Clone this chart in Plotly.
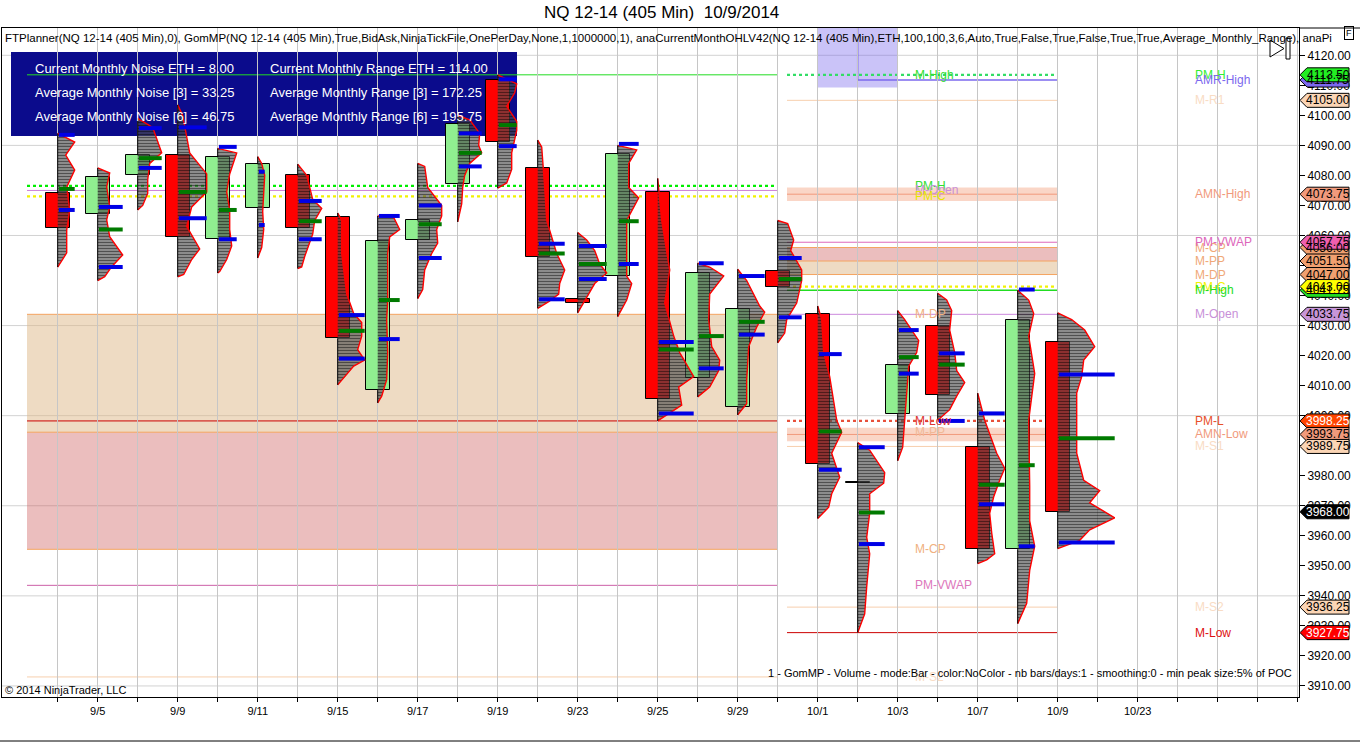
import plotly.graph_objects as go

# ---------------- data ----------------
title_text = "NQ 12-14 (405 Min)\u00a0\u00a010/9/2014"
indicator_text = ("FTPlanner(NQ 12-14 (405 Min),0), GomMP(NQ 12-14 (405 Min),True,BidAsk,NinjaTickFile,OnePerDay,None,1,1000000,1), "
                  "anaCurrentMonthOHLV42(NQ 12-14 (405 Min),ETH,100,100,3,6,Auto,True,False,True,False,True,True,Average_Monthly_Range), anaPi")
footer_text = "1 - GomMP - Volume - mode:Bar - color:NoColor - nb bars/days:1 - smoothing:0 - min peak size:5% of POC"
copyright_text = "© 2014 NinjaTrader, LLC"

dates = ["9/4", "9/5", "9/8", "9/9", "9/10", "9/11", "9/12", "9/15", "9/16", "9/17", "9/18", "9/19", "9/22",
         "9/23", "9/24", "9/25", "9/26", "9/29", "9/30", "10/1", "10/2", "10/3", "10/6", "10/7", "10/8", "10/9"]
axis_labels = ["9/5", "9/9", "9/11", "9/15", "9/17", "9/19", "9/23", "9/25", "9/29", "10/1", "10/3", "10/7", "10/9", "10/23"]

opens = [4074.0, 4067.0, 4080.0, 4086.75, 4058.75, 4069.0, 4080.0, 4066.25, 4008.5, 4058.5, 4077.0, 4111.75, 4082.5,
         4038.75, 4046.5, 4074.5, 4012.5, 4002.75, 4048.25, 4033.75, 3977.5, 4000.5, 4030.0, 3989.5, 3955.5, 4024.5]
highs = [4094.0, 4082.5, 4099.0, 4103.5, 4089.0, 4086.25, 4083.75, 4067.5, 4066.5, 4084.0, 4100.0, 4113.5, 4091.75,
         4061.0, 4090.0, 4079.0, 4050.75, 4048.75, 4065.0, 4036.5, 3991.0, 4035.0, 4040.75, 4007.5, 4041.75, 4034.25]
lows = [4049.5, 4045.0, 4068.5, 4046.25, 4047.5, 4052.5, 4049.0, 4010.25, 4004.25, 4039.0, 4064.5, 4075.75, 4035.75,
        4034.25, 4033.0, 3998.25, 4006.25, 4000.25, 4024.25, 3965.75, 3927.75, 3985.0, 3998.5, 3950.75, 3930.75, 3955.75]
closes = [4062.5, 4079.5, 4086.75, 4059.5, 4086.0, 4083.75, 4062.5, 4025.75, 4058.0, 4065.0, 4097.0, 4091.25, 4052.75,
          4037.5, 4087.0, 4005.5, 4047.5, 4035.5, 4043.0, 3983.75, 3977.75, 4017.0, 4007.0, 3955.75, 4032.0, 3968.0]

# volume profiles: (price, volume) pairs, low to high
profiles = [
    [(4049.5, 0), (4054.2, 9), (4061.8, 9), (4068.5, 12), (4076.1, 9), (4081.8, 17), (4086.8, 8), (4091.1, 17), (4094.0, 0)],
    [(4045.0, 0), (4046.3, 7), (4049.6, 14), (4053.5, 25), (4059.6, 12), (4065.2, 9), (4069.6, 12), (4076.2, 9), (4080.8, 12), (4082.5, 0)],
    [(4068.5, 0), (4070.0, 5), (4074.0, 10), (4078.5, 10), (4084.0, 12), (4087.5, 24), (4096.0, 15), (4099.0, 0)],
    [(4046.25, 0), (4047.0, 6), (4052.0, 14), (4055.5, 22), (4063.0, 9), (4069.5, 14), (4074.5, 29), (4080.5, 29), (4087.5, 12), (4096.0, 7), (4100.0, 5), (4103.5, 0)],
    [(4047.5, 0), (4048.0, 2), (4052.0, 9), (4056.5, 14), (4062.0, 12), (4068.5, 12), (4074.5, 9), (4080.5, 12), (4087.5, 19), (4089.0, 0)],
    [(4052.5, 0), (4056.0, 4), (4062.0, 6), (4068.0, 5), (4074.0, 6), (4080.0, 7), (4084.0, 4), (4086.25, 0)],
    [(4049.0, 0), (4049.5, 4), (4053.0, 7), (4057.5, 12), (4060.5, 15), (4065.0, 17), (4069.0, 24), (4072.0, 15), (4080.0, 9), (4083.75, 0)],
    [(4010.25, 0), (4014.0, 10), (4016.5, 16), (4018.5, 27), (4022.0, 20), (4026.5, 24), (4031.0, 24), (4034.0, 16), (4040.5, 9), (4054.0, 4), (4065.0, 4), (4067.5, 0)],
    [(4004.25, 0), (4006.5, 4), (4012.0, 9), (4021.0, 10), (4032.0, 9), (4038.5, 10), (4047.5, 10), (4054.0, 10), (4059.5, 12), (4062.0, 22), (4066.0, 16), (4066.5, 0)],
    [(4039.0, 0), (4042.0, 5), (4048.5, 7), (4054.0, 14), (4057.5, 20), (4062.0, 19), (4066.5, 24), (4070.0, 24), (4076.0, 10), (4083.0, 7), (4084.0, 0)],
    [(4064.5, 0), (4070.5, 4), (4076.0, 5), (4080.0, 7), (4084.0, 12), (4087.5, 24), (4090.0, 21), (4094.0, 22), (4098.5, 12), (4100.0, 0)],
    [(4075.75, 0), (4077.5, 9), (4082.0, 14), (4087.5, 14), (4095.0, 19), (4098.0, 19), (4103.0, 9), (4107.5, 17), (4110.5, 19), (4113.5, 0)],
    [(4035.75, 0), (4038.0, 11), (4040.5, 21), (4044.0, 22), (4048.5, 27), (4054.0, 19), (4059.5, 14), (4065.0, 9), (4076.0, 7), (4089.5, 4), (4091.75, 0)],
    [(4034.25, 0), (4039.5, 9), (4044.0, 17), (4047.5, 29), (4050.5, 22), (4055.0, 17), (4058.5, 9), (4061.0, 0)],
    [(4033.0, 0), (4038.5, 9), (4044.0, 14), (4046.5, 9), (4054.0, 9), (4065.0, 9), (4072.5, 21), (4076.0, 11), (4084.0, 11), (4088.5, 19), (4090.0, 0)],
    [(3998.25, 0), (4000.25, 9), (4003.5, 24), (4009.5, 21), (4013.0, 36), (4021.0, 22), (4026.5, 16), (4037.5, 7), (4048.5, 12), (4065.0, 4), (4079.0, 0)],
    [(4006.25, 0), (4009.5, 12), (4015.0, 21), (4018.5, 22), (4023.0, 14), (4032.0, 11), (4040.5, 12), (4046.5, 26), (4049.5, 12), (4050.75, 0)],
    [(4000.25, 0), (4004.0, 9), (4012.0, 9), (4023.0, 11), (4029.5, 19), (4034.5, 27), (4036.5, 22), (4040.5, 16), (4045.0, 9), (4048.75, 0)],
    [(4024.25, 0), (4027.5, 7), (4032.0, 9), (4037.5, 19), (4045.0, 24), (4048.5, 24), (4055.0, 13), (4058.5, 16), (4064.0, 10), (4065.0, 0)],
    [(3965.75, 0), (3969.5, 11), (3974.0, 14), (3979.5, 22), (3987.5, 14), (3994.5, 24), (3998.5, 19), (4005.0, 16), (4013.0, 12), (4021.0, 6), (4032.0, 4), (4036.5, 0)],
    [(3927.75, 0), (3934.0, 7), (3943.0, 9), (3954.0, 12), (3959.5, 9), (3967.5, 12), (3974.0, 12), (3977.5, 26), (3981.0, 27), (3985.0, 19), (3988.5, 12), (3991.0, 0)],
    [(3985.0, 0), (3989.5, 5), (3998.5, 7), (4009.5, 9), (4016.5, 11), (4021.0, 19), (4025.0, 21), (4027.5, 16), (4032.0, 7), (4035.0, 0)],
    [(3998.5, 0), (4002.0, 12), (4006.5, 19), (4011.0, 27), (4015.0, 19), (4021.0, 17), (4028.5, 12), (4035.0, 14), (4038.5, 9), (4040.75, 0)],
    [(3950.75, 0), (3952.0, 9), (3954.0, 17), (3961.0, 14), (3967.5, 12), (3973.0, 16), (3978.5, 22), (3982.5, 27), (3987.5, 19), (3998.5, 7), (4007.5, 0)],
    [(3930.75, 0), (3937.5, 9), (3948.5, 12), (3956.5, 17), (3965.0, 12), (3976.5, 12), (3998.5, 11), (4014.0, 17), (4026.5, 11), (4034.0, 16), (4038.5, 11), (4041.75, 0)],
    [(3955.75, 0), (3958.5, 22), (3962.0, 32), (3966.0, 57), (3971.0, 32), (3975.0, 42), (3978.5, 26), (3987.5, 19), (3998.5, 19), (4007.5, 19), (4013.0, 24), (4018.5, 26), (4023.0, 37), (4028.5, 27), (4032.0, 14), (4034.25, 0)],
]
value_area_high = [4093.5, 4069.5, 4095.75, 4096.0, 4089.5, 4081.25, 4071.5, 4033.5, 4066.5, 4070.0, 4094.0, 4112.0, 4057.25,
                   4056.5, 4090.5, 4024.5, 4050.75, 4046.5, 4052.5, 4020.5, 3989.5, 4028.5, 4020.75, 4000.75, 4042.0, 4013.75]
value_area_low = [4068.5, 4049.5, 4082.5, 4065.75, 4058.75, 4063.5, 4058.75, 4019.0, 4025.5, 4052.5, 4083.0, 4089.75, 4038.75,
                  4045.5, 4050.5, 4000.75, 4015.75, 4027.0, 4032.75, 3982.0, 3957.25, 4014.0, 3998.25, 3970.5, 3956.5, 3957.75]
poc = [4075.5, 4062.0, 4085.75, 4074.5, 4068.5, None, 4064.75, 4028.25, 4038.5, 4063.75, 4087.5, 4096.75, 4054.0,
       4050.5, 4064.75, 4022.0, 4026.5, 4031.25, 4045.5, 3994.75, 3967.75, 4019.5, 4017.0, 3977.0, 3983.5, 3992.5]

# September levels (drawn across the September bars)
sept_levels = {"M-High": 4113.5, "PM-H": 4076.5, "M-Open": 4075.0, "PM-C": 4073.0, "M-DP": 4033.75,
               "M-Low": 3998.25, "M-PP": 3994.5, "M-CP": 3955.5, "PM-VWAP": 3943.5, "M-S2": 3913.0}
# October levels (drawn across the October bars)
oct_levels = {"PM-H": 4113.5, "AMR-High": 4111.75, "M-R1": 4105.0, "AMN-High": 4073.75, "PM-VWAP": 4057.75,
              "M-CP": 4056.0, "M-PP": 4051.5, "M-DP": 4047.0, "PM-C": 4043.0, "M-High": 4041.75, "M-Open": 4033.75,
              "PM-L": 3998.25, "AMN-Low": 3993.75, "M-S1": 3989.75, "M-S2": 3936.25, "M-Low": 3927.75}
amr_zone_low = 4109.25
amn_band_half = 2.25
last_price = 3968.0

noise_stats = [("Current Monthly Noise ETH", "8.00"), ("Average Monthly Noise [3]", "33.25"), ("Average Monthly Noise [6]", "46.75")]
range_stats = [("Current Monthly Range ETH", "114.00"), ("Average Monthly Range [3]", "172.25"), ("Average Monthly Range [6]", "195.75")]

# ---------------- geometry helpers ----------------
FONT = "Liberation Sans, Arial, sans-serif"
PL, PR, PT, PB = 2, 1299, 28, 697          # plot area in pixels
Y_TOP, Y_BOT = 4129.09, 3906.32
X_LEFT, X_RIGHT = -1.3925, 31.0325


def pxx(px):
    return (px - PL) / (PR - PL)


def pxy(py):
    return (PB - py) / (PB - PT)


def idx_of_px(px):
    return (px - 57.7) / 40.0


def price_of_py(py):
    return Y_TOP - (py - PT) * (Y_TOP - Y_BOT) / (PB - PT)


VOL_SCALE = 1 / 40.0
SEPT_X = (idx_of_px(27), idx_of_px(777.5))
OCT_X = (idx_of_px(787), idx_of_px(1057.5))

fig = go.Figure()
shapes = []
annotations = []

# horizontal grid lines every 30 points
g = 3910
while g <= 4120:
    shapes.append(dict(type="line", xref="paper", yref="y", x0=0, x1=1, y0=g, y1=g,
                       line=dict(color="#d2d2d2", width=1), layer="below"))
    g += 30

# stats box
shapes.append(dict(type="rect", xref="x", yref="y", x0=idx_of_px(11), x1=idx_of_px(517),
                   y0=price_of_py(136), y1=price_of_py(52), fillcolor="#0b0b8c", line=dict(width=0), layer="below"))


def hline(y, x0, x1, color, width=1, dash="solid"):
    shapes.append(dict(type="line", xref="x", yref="y", x0=x0, x1=x1, y0=y, y1=y,
                       line=dict(color=color, width=width, dash=dash), layer="below"))


def band(y0, y1, x0, x1, fill):
    shapes.append(dict(type="rect", xref="x", yref="y", x0=x0, x1=x1, y0=y0, y1=y1,
                       fillcolor=fill, line=dict(width=0), layer="below"))


TAN = "rgba(222,184,135,0.5)"
ROSE = "rgba(205,92,92,0.40)"
SALMON = "rgba(244,165,130,0.45)"
ORANGE = "#f4a460"
LIME = "#22dd22"
PEACH = "#f7cfae"

# September section
sx0, sx1 = SEPT_X
s = sept_levels
band(s["M-PP"], s["M-DP"], sx0, sx1, TAN)
band(s["M-CP"], s["M-PP"], sx0, sx1, ROSE)
hline(s["M-DP"], sx0, sx1, ORANGE)
hline(s["M-PP"], sx0, sx1, ORANGE)
hline(s["M-CP"], sx0, sx1, ORANGE)
hline(s["M-Low"], sx0, sx1, "#cc0000")
hline(s["PM-VWAP"], sx0, sx1, "#cc5fa8")
hline(s["M-S2"], sx0, sx1, PEACH)
hline(s["M-High"], sx0, sx1, LIME)
hline(s["PM-H"], sx0, sx1, "#00ee00", 2.2, "dot")
hline(s["M-Open"], sx0, sx1, "#cc80d8")
hline(s["PM-C"], sx0, sx1, "#f2f200", 2.2, "dot")

# October section
ox0, ox1 = OCT_X
o = oct_levels
shapes.append(dict(type="rect", xref="x", yref="y", x0=19.0, x1=21.0, y0=amr_zone_low, y1=Y_TOP + 5,
                   fillcolor="rgba(123,104,238,0.40)", line=dict(width=0), layer="below"))
band(o["AMN-High"] - amn_band_half, o["AMN-High"] + amn_band_half, ox0, ox1, SALMON)
hline(o["AMN-High"], ox0, ox1, "#f19a7c")
band(o["AMN-Low"] - amn_band_half, o["AMN-Low"] + amn_band_half, ox0, ox1, SALMON)
hline(o["AMN-Low"], ox0, ox1, "#f19a7c")
band(o["M-PP"], o["M-CP"], ox0, ox1, ROSE)
band(o["M-DP"], o["M-PP"], ox0, ox1, TAN)
for k in ("M-CP", "M-PP", "M-DP"):
    hline(o[k], ox0, ox1, ORANGE)
hline(o["PM-VWAP"], ox0, ox1, "#dd66bb")
hline(o["M-R1"], ox0, ox1, PEACH)
hline(o["M-S1"], ox0, ox1, PEACH)
hline(o["M-S2"], ox0, ox1, PEACH)
hline(o["M-Low"], ox0, ox1, "#cc0000")
hline(o["M-Open"], ox0, ox1, "#cc88dd")
hline(o["M-High"], ox0, ox1, LIME, 1.5)
hline(o["PM-C"], ox0, ox1, "#f2f200", 2.2, "dot")
hline(o["PM-L"], ox0, ox1, "#e8503a", 2.2, "dot")
hline(o["PM-H"], ox0, ox1, "#33dd66", 2.2, "dot")
hline(o["AMR-High"], 20.0, ox1, "#7b68ee", 1.5)
shapes.append(dict(type="line", xref="x", yref="y", x0=20.0, x1=20.0, y0=o["AMR-High"], y1=Y_TOP + 5,
                   line=dict(color="#7b68ee", width=1.5), layer="below"))

# ---------------- candles ----------------
n = len(dates)
xs = list(range(n))
body_lo = [min(a, b) for a, b in zip(opens, closes)]
body_hi = [max(a, b) for a, b in zip(opens, closes)]
body_h = [max(h - l, 0.25) for h, l in zip(body_hi, body_lo)]
body_col = ["#90ee90" if c >= op else "#ff0000" for op, c in zip(opens, closes)]
fig.add_trace(go.Bar(x=xs, y=body_h, base=body_lo, width=0.6,
                     marker=dict(color=body_col, line=dict(color="black", width=1)),
                     showlegend=False, hoverinfo="skip"))

# volume profiles
for i, prof in enumerate(profiles):
    vx = [i + v * VOL_SCALE for p, v in prof]
    vy = [p for p, v in prof]
    fig.add_trace(go.Scatter(x=vx, y=vy, mode="none", fill="toself",
                             fillcolor="rgba(80,80,80,0.62)",
                             fillpattern=dict(shape="-", bgcolor="rgba(80,80,80,0.62)",
                                              fgcolor="rgba(0,0,0,0.9)", size=3, solidity=0.4),
                             showlegend=False, hoverinfo="skip"))
    fig.add_trace(go.Scatter(x=vx, y=vy, mode="lines", line=dict(color="#ff0000", width=1.4),
                             showlegend=False, hoverinfo="skip"))

# wicks
wx, wy = [], []
for i in xs:
    wx += [i, i, None, i, i, None]
    wy += [lows[i], body_lo[i], None, body_hi[i], highs[i], None]
fig.add_trace(go.Scatter(x=wx, y=wy, mode="lines", line=dict(color="black", width=1),
                         showlegend=False, hoverinfo="skip"))

# value area and POC marks
bx, by, gx, gy = [], [], [], []
for i, prof in enumerate(profiles):
    L = max(v for p, v in prof) * VOL_SCALE
    for lvl in (value_area_high[i], value_area_low[i]):
        bx += [i + 0.03, i + L, None]
        by += [lvl, lvl, None]
    if poc[i] is not None:
        gx += [i + 0.03, i + L, None]
        gy += [poc[i], poc[i], None]
fig.add_trace(go.Scatter(x=bx, y=by, mode="lines", line=dict(color="#0000e6", width=4),
                         showlegend=False, hoverinfo="skip"))
fig.add_trace(go.Scatter(x=gx, y=gy, mode="lines", line=dict(color="#007a00", width=4),
                         showlegend=False, hoverinfo="skip"))

# ---------------- level labels ----------------
sept_label_colors = {"M-High": "#33dd33", "PM-H": "#33dd33", "M-Open": "#c890d8", "PM-C": "#e6e600",
                     "M-DP": "#f0b080", "M-Low": "#dd3333", "M-PP": "#f0b896", "M-CP": "#f0b080",
                     "PM-VWAP": "#dd77bb", "M-S2": "#f9dcc4"}
for k, v in sept_levels.items():
    annotations.append(dict(x=idx_of_px(913), y=v, xref="x", yref="y", text=k, showarrow=False,
                            xanchor="left", yanchor="middle",
                            font=dict(family=FONT, size=12, color=sept_label_colors[k])))

oct_label_colors = {"PM-H": "#33ee33", "AMR-High": "#7b68ee", "M-R1": "#f9dcc4", "AMN-High": "#f19a7c",
                    "PM-VWAP": "#dd66bb", "M-CP": "#f0a878", "M-PP": "#f0a878", "M-DP": "#f0a878",
                    "PM-C": "#f2f200", "M-High": "#22dd22", "M-Open": "#c890d8", "PM-L": "#e8502a",
                    "AMN-Low": "#f19a7c", "M-S1": "#f9dcc4", "M-S2": "#f9dcc4", "M-Low": "#dd1111"}
label_order = ["PM-H", "AMR-High", "M-R1", "AMN-High", "M-CP", "PM-VWAP", "M-PP", "M-DP", "PM-C", "M-High",
               "M-Open", "PM-L", "AMN-Low", "M-S1", "M-S2", "M-Low"]
for k in label_order:
    annotations.append(dict(x=idx_of_px(1193), y=oct_levels[k], xref="x", yref="y", text=k, showarrow=False,
                            xanchor="left", yanchor="middle",
                            font=dict(family=FONT, size=12, color=oct_label_colors[k])))

# ---------------- price tags on the axis ----------------
tag_style = [("AMR-High", "#7b68ee", "black"), ("M-CP", "#f0a070", "black"), ("M-High", "#22dd22", "black"),
             ("PM-H", "#22ee22", "black"), ("M-R1", "#fbd5b5", "black"), ("AMN-High", "#f19a7c", "black"),
             ("PM-VWAP", "#ee5fae", "black"), ("M-PP", "#f0a070", "black"), ("M-DP", "#f0a070", "black"),
             ("PM-C", "#ffff00", "black"), ("M-Open", "#c896d8", "black"), ("PM-L", "#ff4500", "white"),
             ("AMN-Low", "#f19a7c", "black"), ("M-S1", "#fbd5b5", "black"), ("M-S2", "#fbd5b5", "black"),
             ("M-Low", "#ff0000", "white")]
half = 7 * (Y_TOP - Y_BOT) / (PB - PT)


def price_tag(p, fill, tcol):
    a, b, c = pxx(1300), pxx(1307), pxx(1349)
    shapes.append(dict(type="path", xref="paper", yref="y",
                       path=f"M {a},{p} L {b},{p + half} L {c},{p + half} L {c},{p - half} L {b},{p - half} Z",
                       fillcolor=fill, line=dict(color="black", width=1), layer="above"))
    annotations.append(dict(x=pxx(1328), y=p, xref="paper", yref="y", text=f"{p:.2f}", showarrow=False,
                            xanchor="center", yanchor="middle", font=dict(family=FONT, size=12, color=tcol)))


for k, fill, tcol in tag_style:
    price_tag(oct_levels[k], fill, tcol)
price_tag(last_price, "#000000", "white")

# ---------------- texts ----------------
annotations.append(dict(x=pxx(661), y=pxy(13), xref="paper", yref="paper", text=title_text, showarrow=False,
                        xanchor="center", yanchor="middle", font=dict(family=FONT, size=17, color="black")))
annotations.append(dict(x=pxx(3), y=pxy(38), xref="paper", yref="paper", text=indicator_text, showarrow=False,
                        xanchor="left", yanchor="middle", font=dict(family=FONT, size=11.5, color="black")))
for r, ((nl, nv), (rl, rv)) in enumerate(zip(noise_stats, range_stats)):
    yy = pxy(68 + 24 * r)
    annotations.append(dict(x=pxx(33), y=yy, xref="paper", yref="paper", text=f"{nl} = {nv}", showarrow=False,
                            xanchor="left", yanchor="middle", font=dict(family=FONT, size=13, color="white")))
    annotations.append(dict(x=pxx(268), y=yy, xref="paper", yref="paper", text=f"{rl} = {rv}", showarrow=False,
                            xanchor="left", yanchor="middle", font=dict(family=FONT, size=13, color="white")))
annotations.append(dict(x=pxx(1294), y=pxy(673), xref="paper", yref="paper", text=footer_text, showarrow=False,
                        xanchor="right", yanchor="middle", font=dict(family=FONT, size=11, color="black")))
annotations.append(dict(x=pxx(3), y=pxy(690), xref="paper", yref="paper", text=copyright_text, showarrow=False,
                        xanchor="left", yanchor="middle", font=dict(family=FONT, size=11, color="black")))
annotations.append(dict(x=pxx(1349), y=pxy(33), xref="paper", yref="paper", text="F", showarrow=False,
                        xanchor="center", yanchor="middle", bordercolor="black", borderwidth=1, borderpad=1,
                        font=dict(family=FONT, size=9, color="black")))

# frame pieces and the small play/pause glyph
shapes.append(dict(type="line", xref="paper", yref="paper", x0=1, x1=pxx(1360), y0=1, y1=1,
                   line=dict(color="black", width=1)))
shapes.append(dict(type="line", xref="paper", yref="paper", x0=pxx(0), x1=pxx(1360), y0=pxy(741), y1=pxy(741),
                   line=dict(color="black", width=1)))
shapes.append(dict(type="path", xref="paper", yref="paper",
                   path=f"M {pxx(1270)},{pxy(40)} L {pxx(1270)},{pxy(57)} L {pxx(1284)},{pxy(48.5)} Z",
                   fillcolor="white", line=dict(color="black", width=1), layer="above"))
shapes.append(dict(type="rect", xref="paper", yref="paper", x0=pxx(1286), x1=pxx(1290), y0=pxy(59), y1=pxy(38),
                   fillcolor="white", line=dict(color="black", width=1), layer="above"))

# ---------------- axes ----------------
tick_idx = list(range(32))
tick_txt = []
for t in tick_idx:
    k = (t - 1) // 2
    tick_txt.append(axis_labels[k] if t % 2 == 1 and 0 <= k < len(axis_labels) else "")

yt = [3910 + 10 * k for k in range(22)]
fig.update_layout(
    width=1360, height=743,
    margin=dict(l=PL, r=1360 - PR, t=PT, b=743 - PB),
    paper_bgcolor="white", plot_bgcolor="white",
    showlegend=False, barmode="overlay", bargap=0,
    xaxis=dict(range=[X_LEFT, X_RIGHT], tickmode="array", tickvals=tick_idx, ticktext=tick_txt,
               showgrid=True, gridcolor="#c6c6c6", gridwidth=1, zeroline=False,
               ticks="outside", ticklen=4, tickcolor="black", showline=True, linecolor="black",
               linewidth=1, mirror=True, tickfont=dict(family=FONT, size=11, color="black")),
    yaxis=dict(range=[Y_BOT, Y_TOP], side="right", tickmode="array", tickvals=yt,
               ticktext=[f"{v:.2f}" for v in yt], showgrid=False, zeroline=False,
               ticks="outside", ticklen=5, tickcolor="black", showline=True, linecolor="black",
               linewidth=1, mirror=True, tickfont=dict(family=FONT, size=12, color="black")),
    shapes=shapes, annotations=annotations,
)

fig.write_html("out.html", config={"displayModeBar": False},
               post_script="document.body.style.margin='0px';document.body.style.padding='0px';")
